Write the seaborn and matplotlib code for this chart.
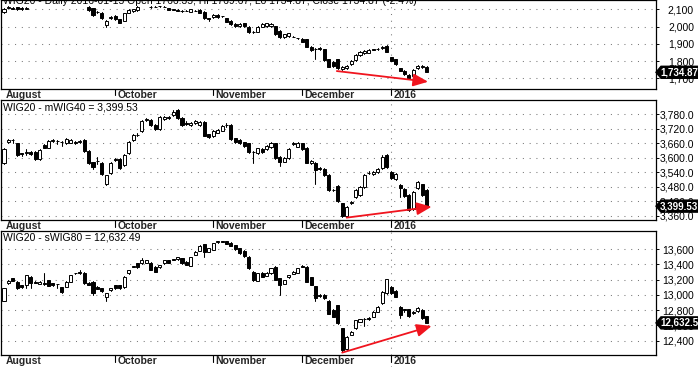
import numpy as np
import pandas as pd
import matplotlib
matplotlib.use("Agg")
import matplotlib.pyplot as plt
import seaborn as sns
from matplotlib.patches import Polygon

# ---------------- data ----------------
wig20_open = [2082, 2110, 2108, 2111, 2110, 2104, 2165, 2180, 2190, 2198,
              2192, 2185, 2194, 2202, 2196, 2188, 2195, 2190, 2180, 2115,
              2106, 2086, 2080, 2009, 2048, 2061, 2042, 2034, 2080, 2090,
              2096, 2160, 2172, 2114, 2116, 2118, 2116, 2106, 2100, 2096,
              2092, 2092, 2086, 2092, 2096, 2086, 2048, 2053, 2067, 2062,
              2048, 2034, 2015, 2003, 2019, 1999, 1971, 1970, 1999, 2003,
              2003, 2003, 1976, 1938, 1945, 1942, 1932, 1928, 1926, 1883,
              1868, 1874, 1868, 1810, 1796, 1810, 1752, 1758, 1783, 1806,
              1835, 1845, 1849, 1868, 1870, 1874, 1887, 1821, 1810, 1758,
              1744, 1719, 1714, 1758, 1763, 1766.35]
wig20_high = [2107, 2119, 2112, 2114, 2113, 2113, 2185, 2195, 2205, 2210,
              2200, 2198, 2208, 2212, 2204, 2200, 2206, 2198, 2184, 2118,
              2110, 2092, 2084, 2038, 2060, 2065, 2046, 2080, 2100, 2104,
              2119, 2178, 2180, 2119, 2118, 2121, 2119, 2109, 2103, 2100,
              2098, 2094, 2103, 2094, 2099, 2090, 2050, 2070, 2070, 2064,
              2052, 2038, 2018, 2018, 2022, 2003, 1977, 2003, 2018, 2022,
              2019, 2006, 1980, 1958, 1964, 1945, 1935, 1931, 1930, 1887,
              1873, 1880, 1872, 1814, 1800, 1814, 1771, 1775, 1806, 1839,
              1858, 1864, 1868, 1872, 1873, 1887, 1891, 1825, 1814, 1762,
              1748, 1723, 1752, 1775, 1775, 1769.67]
wig20_low = [2080, 2105, 2100, 2097, 2098, 2101, 2160, 2172, 2182, 2188,
             2180, 2178, 2188, 2192, 2184, 2180, 2186, 2176, 2160, 2092,
             2063, 2077, 2044, 1999, 2044, 2038, 2019, 2030, 2077, 2086,
             2092, 2158, 2160, 2106, 2112, 2115, 2112, 2094, 2094, 2090,
             2084, 2088, 2083, 2088, 2077, 2044, 2034, 2050, 2050, 2058,
             2025, 2011, 2000, 2000, 2000, 1963, 1961, 1967, 1996, 2000,
             2000, 1951, 1934, 1934, 1942, 1938, 1928, 1908, 1879, 1860,
             1810, 1866, 1802, 1764, 1767, 1754, 1749, 1755, 1780, 1802,
             1831, 1841, 1845, 1862, 1866, 1870, 1850, 1798, 1779, 1740,
             1721, 1696, 1710, 1754, 1758, 1734.87]
wig20_close = [2102, 2112, 2104, 2100, 2101, 2110, 2180, 2190, 2198, 2192,
               2185, 2194, 2202, 2196, 2188, 2195, 2190, 2180, 2164, 2096,
               2067, 2084, 2048, 2034, 2057, 2042, 2023, 2077, 2096, 2100,
               2115, 2172, 2165, 2116, 2115, 2119, 2115, 2096, 2096, 2092,
               2090, 2091, 2100, 2091, 2080, 2048, 2046, 2067, 2053, 2061,
               2028, 2015, 2003, 2015, 2003, 1967, 1969, 1999, 2015, 2019,
               2015, 1955, 1938, 1955, 1961, 1941, 1931, 1912, 1883, 1864,
               1870, 1872, 1806, 1768, 1771, 1758, 1768, 1771, 1802, 1835,
               1854, 1860, 1864, 1867, 1870.5, 1883, 1854, 1802, 1783, 1744,
               1725, 1700, 1748, 1771, 1771, 1734.87]

mwig40_open = [3576, 3663, 3671, 3659, 3617, 3620, 3622, 3625, 3596, 3652,
               3641, 3668, 3668, 3664, 3659, 3662, 3666, 3664, 3673, 3628,
               3580, 3585, 3576, 3492, 3535, 3594, 3596, 3569, 3618, 3673,
               3693, 3710, 3757, 3755, 3735, 3718, 3758, 3762, 3776, 3796,
               3765, 3745, 3735, 3742, 3735, 3748, 3696, 3689, 3703, 3711,
               3733, 3734, 3680, 3672, 3663, 3659, 3624, 3620, 3635, 3634,
               3642, 3659, 3604, 3583, 3600, 3655, 3645, 3659, 3641, 3576,
               3576, 3557, 3555, 3528, 3466, 3482, 3411, 3359, 3413, 3436,
               3445, 3477, 3535, 3532, 3539, 3556, 3611, 3542, 3512, 3487,
               3470, 3445, 3387, 3476, 3489, 3466]
mwig40_high = [3638, 3676, 3675, 3662, 3620, 3636, 3626, 3628, 3634, 3655,
               3671, 3675, 3673, 3668, 3680, 3675, 3669, 3674, 3676, 3632,
               3583, 3604, 3580, 3530, 3580, 3598, 3600, 3614, 3669, 3696,
               3700, 3755, 3762, 3758, 3738, 3772, 3772, 3772, 3796, 3800,
               3768, 3750, 3748, 3755, 3752, 3752, 3699, 3714, 3720, 3733,
               3742, 3738, 3683, 3676, 3666, 3662, 3628, 3641, 3638, 3651,
               3665, 3662, 3607, 3604, 3638, 3666, 3666, 3662, 3644, 3590,
               3580, 3562, 3559, 3531, 3470, 3485, 3414, 3400, 3420, 3470,
               3484, 3531, 3545, 3545, 3559, 3610, 3614, 3545, 3535, 3490,
               3474, 3449, 3460, 3504, 3492, 3470]
mwig40_low = [3572, 3660, 3659, 3608, 3608, 3612, 3610, 3590, 3592, 3638,
              3638, 3663, 3655, 3648, 3656, 3659, 3656, 3660, 3625, 3572,
              3555, 3575, 3528, 3487, 3532, 3588, 3552, 3565, 3614, 3670,
              3690, 3707, 3752, 3732, 3713, 3715, 3755, 3760, 3773, 3758,
              3730, 3735, 3732, 3738, 3732, 3688, 3680, 3686, 3700, 3708,
              3728, 3672, 3662, 3655, 3644, 3620, 3576, 3616, 3621, 3631,
              3638, 3593, 3565, 3580, 3596, 3652, 3642, 3630, 3576, 3573,
              3491, 3550, 3524, 3462, 3462, 3418, 3355, 3356, 3410, 3432,
              3441, 3473, 3532, 3530, 3535, 3552, 3558, 3511, 3508, 3438,
              3436, 3380, 3383, 3472, 3441, 3396]
mwig40_close = [3634, 3673, 3673, 3611, 3614, 3622, 3614, 3593, 3631, 3641,
                3669, 3672, 3670, 3666, 3676, 3672, 3662, 3668, 3629, 3576,
                3562, 3587, 3531, 3527, 3576, 3592, 3556, 3610, 3666, 3693,
                3695, 3752, 3759, 3735, 3717, 3769, 3769, 3769, 3790, 3762,
                3735, 3740, 3744, 3752, 3748, 3691, 3684, 3711, 3716, 3730,
                3735, 3675, 3666, 3659, 3648, 3624, 3625, 3638, 3624, 3648,
                3659, 3597, 3583, 3600, 3634, 3659, 3662, 3634, 3579, 3587,
                3549, 3555, 3528, 3466, 3468, 3422, 3359, 3397, 3416, 3466,
                3480, 3528, 3538, 3542, 3555, 3604, 3562, 3514, 3531, 3476,
                3440, 3383, 3456, 3500, 3445, 3399.53]

swig80_open = [12919, 13150, 13216, 13172, 13129, 13129, 13238, 13172, 13142, 13150,
               13194, 13150, 13140, 13098, 13107, 13172, 13282, 13303, 13290, 13160,
               13172, 13107, 13085, 12968, 13063, 13129, 13129, 13098, 13282, 13369,
               13412, 13412, 13421, 13421, 13369, 13360, 13412, 13456, 13465, 13465,
               13478, 13434, 13378, 13522, 13578, 13665, 13565, 13587, 13692, 13700,
               13700, 13683, 13652, 13609, 13578, 13500, 13303, 13185, 13290, 13248,
               13282, 13369, 13216, 13142, 13229, 13273, 13290, 13378, 13369, 13229,
               13116, 12998, 12998, 12924, 12802, 12867, 12562, 12287, 12475, 12562,
               12650, 12680, 12698, 12715, 12780, 12889, 13020, 13107, 13055, 12845,
               12810, 12810, 12758, 12788, 12802, 12723]
swig80_high = [13090, 13190, 13225, 13176, 13133, 13265, 13245, 13185, 13176, 13282,
               13200, 13155, 13145, 13102, 13176, 13265, 13290, 13320, 13300, 13165,
               13176, 13120, 13090, 13025, 13095, 13133, 13133, 13242, 13330, 13380,
               13415, 13480, 13460, 13425, 13373, 13395, 13460, 13460, 13470, 13495,
               13485, 13440, 13495, 13570, 13650, 13670, 13615, 13680, 13710, 13705,
               13705, 13690, 13656, 13613, 13582, 13505, 13308, 13290, 13295, 13295,
               13352, 13373, 13220, 13198, 13265, 13308, 13352, 13395, 13373, 13233,
               13120, 13010, 13005, 12930, 12810, 12872, 12568, 12460, 12525, 12675,
               12690, 12700, 12705, 12785, 12850, 13046, 13210, 13112, 13060, 12850,
               12815, 12815, 12785, 12845, 12810, 12728]
swig80_low = [12915, 13145, 13180, 13070, 13090, 13090, 13085, 13150, 13138, 13130,
              13110, 13120, 13085, 13030, 13100, 13168, 13270, 13278, 13145, 13125,
              12995, 13075, 13040, 12915, 13055, 13080, 13080, 13094, 13278, 13360,
              13355, 13408, 13415, 13320, 13295, 13355, 13408, 13415, 13455, 13460,
              13408, 13385, 13375, 13518, 13575, 13500, 13560, 13582, 13685, 13690,
              13665, 13635, 13590, 13535, 13500, 13340, 13185, 13180, 13230, 13244,
              13278, 13190, 13000, 13138, 13225, 13270, 13286, 13360, 13168, 13124,
              12915, 12975, 12945, 12745, 12705, 12620, 12245, 12280, 12470, 12555,
              12645, 12590, 12675, 12710, 12775, 12885, 13015, 13010, 12970, 12693,
              12780, 12705, 12750, 12780, 12680, 12625]
swig80_close = [13085, 13185, 13185, 13085, 13098, 13260, 13150, 13160, 13172, 13145,
                13115, 13130, 13142, 13042, 13172, 13260, 13285, 13282, 13150, 13130,
                13028, 13080, 13055, 13020, 13090, 13085, 13085, 13238, 13325, 13375,
                13360, 13456, 13456, 13325, 13303, 13390, 13456, 13421, 13460, 13490,
                13412, 13390, 13490, 13565, 13640, 13565, 13610, 13674, 13700, 13696,
                13670, 13640, 13596, 13543, 13508, 13347, 13194, 13282, 13238, 13290,
                13347, 13194, 13129, 13194, 13260, 13303, 13347, 13369, 13172, 13129,
                12955, 12990, 12955, 12750, 12715, 12627, 12278, 12453, 12518, 12671,
                12680, 12690, 12680, 12780, 12845, 13042, 13203, 13020, 12976, 12736,
                12802, 12723, 12780, 12832, 12693, 12632.49]

month_labels = ["August", "October", "November", "December", "2016"]
month_start_index = [0, 25, 47, 67, 87]

wig20_ticks = [1700, 1800, 1900, 2000, 2100]
mwig40_ticks = [3360, 3420, 3480, 3540, 3600, 3660, 3720, 3780]
swig80_ticks = [12400, 12600, 12800, 13000, 13200, 13400, 13600]

wig20_title = "WIG20 - Daily 2016-01-15 Open 1766.35, Hi 1769.67, Lo 1734.87, Close 1734.87 (-2.4%)"
mwig40_title = "WIG20 - mWIG40 = 3,399.53"
swig80_title = "WIG20 - sWIG80 = 12,632.49"
last_labels = ["1,734.87", "3,399.53", "12,632.5"]

# trend arrows (start index, start value, end index, end value)
wig20_arrow = [74.8, 1742, 95.3, 1680]
mwig40_arrow = [77.0, 3352, 96.1, 3397]
swig80_arrow = [76.0, 12243, 96.1, 12592]

# ---------------- style ----------------
sns.set_theme(style="white")
plt.rcParams["font.family"] = ["Liberation Sans", "DejaVu Sans"]

W, H = 698, 367
fig = plt.figure(figsize=(W / 100, H / 100), dpi=100)
fig.patch.set_facecolor("white")

XMIN, XMAX = -0.674, 146.52
GRID_KW = dict(color="#7a7a7a", linestyle=(0, (1, 5.5)), linewidth=0.75)
RED = "#f0141e"
FS = 7


def box(x0, y0, x1, y1):
    return [x0 / W, 1 - y1 / H, (x1 - x0) / W, (y1 - y0) / H]


def draw_candles(ax, o, h, l, c):
    o, h, l, c = map(np.asarray, (o, h, l, c))
    idx = np.arange(len(o))
    wick = pd.DataFrame({"day": np.repeat(idx, 2),
                         "price": np.column_stack([l, h]).ravel()})
    sns.lineplot(data=wick, x="day", y="price", units="day", estimator=None,
                 color="black", lw=0.75, ax=ax, legend=False, zorder=2)
    up = c >= o
    bottom = np.minimum(o, c)
    height = np.maximum(np.abs(c - o), 1e-4)
    ax.bar(idx[up], height[up], bottom=bottom[up], width=0.68, color="white",
           edgecolor="black", linewidth=0.7, zorder=3)
    ax.bar(idx[~up], height[~up], bottom=bottom[~up], width=0.68, color="black",
           edgecolor="black", linewidth=0.7, zorder=3)


def draw_strip(sax, text_y=0.5):
    sax.set_xlim(XMIN, XMAX)
    sax.set_ylim(0, 1)
    sax.axis("off")
    for k, (pos, lab) in enumerate(zip(month_start_index, month_labels)):
        if k > 0:
            sax.plot([pos, pos], [1, 0.42], color="black", lw=0.8)
        sax.text(pos + 0.45, text_y, lab, fontweight="bold", fontsize=FS + 0.5,
                 va="center", ha="left")
    sax.axvline(month_start_index[-1], ymin=0, ymax=0.42, **GRID_KW)


panels = [
    dict(o=wig20_open, h=wig20_high, l=wig20_low, c=wig20_close,
         ylim=(1638, 2154), ticks=wig20_ticks, fmt="{:,.0f}",
         box=(1, 0, 656, 89), strip=(1, 89, 656, 100), arrow=wig20_arrow,
         last=last_labels[0]),
    dict(o=mwig40_open, h=mwig40_high, l=mwig40_low, c=mwig40_close,
         ylim=(3341, 3838), ticks=mwig40_ticks, fmt="{:,.1f}",
         box=(1, 100, 656, 220.3), strip=(1, 220.3, 656, 231), arrow=mwig40_arrow,
         last=last_labels[1], title=mwig40_title, title_y=107),
    dict(o=swig80_open, h=swig80_high, l=swig80_low, c=swig80_close,
         ylim=(12212, 13836), ticks=swig80_ticks, fmt="{:,.0f}",
         box=(1, 231, 656, 355), strip=(1, 355, 656, 367), arrow=swig80_arrow,
         last=last_labels[2], title=swig80_title, title_y=237),
]

axes = []
for p in panels:
    ax = fig.add_axes(box(*p["box"]))
    ax.set_facecolor("white")
    draw_candles(ax, p["o"], p["h"], p["l"], p["c"])
    ax.set_xlim(XMIN, XMAX)
    ax.set_ylim(*p["ylim"])
    ax.set_xlabel("")
    ax.set_ylabel("")
    ax.set_xticks([])
    for t in p["ticks"]:
        ax.axhline(t, zorder=1, **GRID_KW)
    ax.axvline(month_start_index[-1], zorder=1, **GRID_KW)
    ax.yaxis.tick_right()
    ax.set_yticks(p["ticks"], [p["fmt"].format(t) for t in p["ticks"]])
    ax.tick_params(axis="y", length=2.5, width=0.7, direction="out",
                   pad=24.9, labelsize=FS + 0.5, colors="black")
    for lab in ax.get_yticklabels():
        lab.set_horizontalalignment("right")
    for s in ax.spines.values():
        s.set_color("black")
        s.set_linewidth(0.9)
        s.set_visible(True)
    a = p["arrow"]
    ax.annotate("", xy=(a[2], a[3]), xytext=(a[0], a[1]),
                arrowprops=dict(arrowstyle="-|>,head_length=0.75,head_width=0.32",
                                color=RED, lw=1.3, shrinkA=0, shrinkB=0,
                                mutation_scale=12),
                zorder=5)
    if "title" in p:
        fig.text(3 / W, 1 - p["title_y"] / H, p["title"], fontsize=FS + 0.5,
                 va="center", ha="left", color="black")
    sax = fig.add_axes(box(*p["strip"]))
    draw_strip(sax)
    axes.append(ax)

# top title (partly cut off by the image edge, as in the reference)
fig.text(3 / W, 1 - 4 / H, wig20_title, fontsize=FS + 0.5, va="baseline",
         ha="left", color="black")

# last-value tags on the price axis
fig.canvas.draw()
for ax, p in zip(axes, panels):
    yc = ax.transData.transform((0, p["c"][-1]))[1]   # display pixels from bottom
    hh = 6.0
    verts = [(656, yc), (661, yc + hh), (698, yc + hh), (698, yc - hh), (661, yc - hh)]
    verts = [(x / W, y / H) for x, y in verts]
    fig.add_artist(Polygon(verts, closed=True, facecolor="black",
                           edgecolor="black", transform=fig.transFigure, zorder=10))
    fig.text(660 / W, yc / H, p["last"], color="white", fontsize=FS,
             fontweight="bold", va="center", ha="left", zorder=11)

fig.savefig("out.png", dpi=100, facecolor="white")
